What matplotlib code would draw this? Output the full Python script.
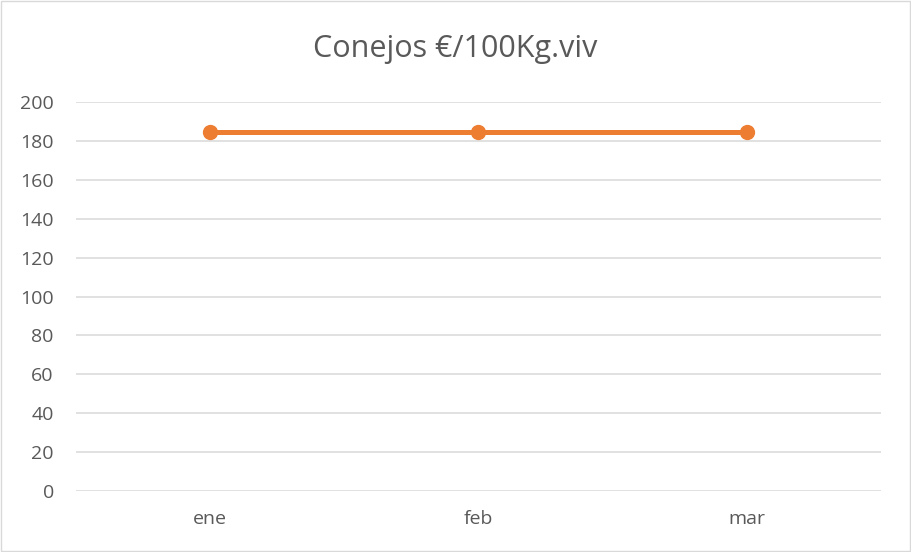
import matplotlib.pyplot as plt
from matplotlib.patches import Rectangle

# data
months = ["ene", "feb", "mar"]
prices = [184.5, 184.5, 184.5]
y_ticks = list(range(0, 201, 20))

plt.rcParams["font.family"] = ["Open Sans", "DejaVu Sans"]

fig = plt.figure(figsize=(9.11, 5.52), dpi=100)
ax = fig.add_axes([0.0834, 0.1105, 0.8836, 0.7045])

x = list(range(len(months)))
ax.plot(x, prices, color="#ED7D31", linewidth=3.6, marker="o",
        markersize=10, solid_capstyle="round", zorder=3)

ax.set_xlim(-0.5, len(months) - 0.5)
ax.set_ylim(0, 200)
ax.set_yticks(y_ticks)
ax.set_xticks(x)
ax.set_xticklabels(months)
ax.tick_params(axis="both", length=0, colors="#595959", labelsize=14)
ax.tick_params(axis="y", pad=16)
ax.tick_params(axis="x", pad=14)
ax.grid(axis="y", color="#D9D9D9", linewidth=1.1)
ax.set_axisbelow(True)
for s in ax.spines.values():
    s.set_visible(False)

fig.text(0.5, 0.912, "Conejos €/100Kg.viv", ha="center", va="center",
         fontsize=22, color="#595959")

fig.patches.append(Rectangle((0.001, 0.001), 0.998, 0.998, transform=fig.transFigure,
                             fill=False, edgecolor="#D9D9D9", linewidth=1))

fig.savefig("out.png", dpi=100)
